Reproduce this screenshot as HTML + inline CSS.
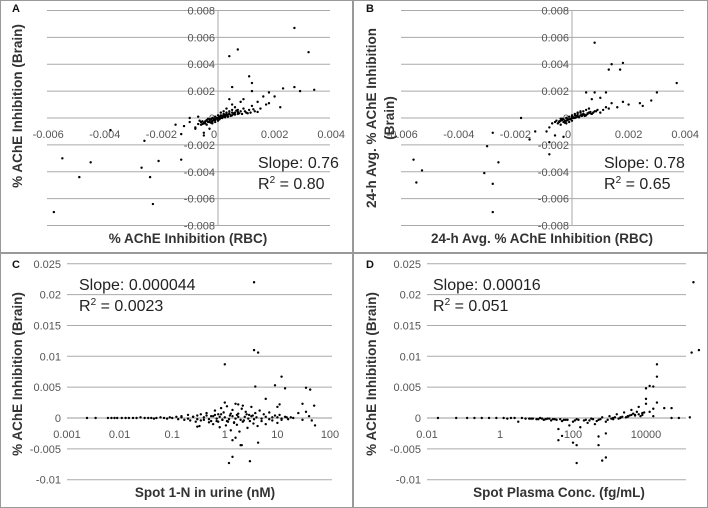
<!DOCTYPE html>
<html><head><meta charset="utf-8">
<style>
html,body{margin:0;padding:0;background:#fff}
svg{display:block}
text{font-family:"Liberation Sans",sans-serif}
.tick{font-size:11px;fill:#555}
.title{font-size:13.5px;fill:#333;font-weight:bold}
.stat{font-size:16px;fill:#222}
.letter{font-size:11px;font-weight:bold;fill:#111}
</style></head>
<body>
<svg id="fig" width="708" height="508" viewBox="0 0 708 508"></svg>
<script>
// ---- Panel A data (units of 0.001 % inhibition)
const aX=[2.7,0.7,0.4,3.2,1.1,1.2,0.5,2.3,2.7,2.9,3.4,1.2,1.6,2.0,1.8,2.2,1.4,1.7,0.9,-5.8,-5.5,-4.9,-4.5,-2.7,-2.6,-2.4,-2.3,-2.1,-1.3,-1.3,-3.8,-1.0,-0.8,-0.5,-1.5,
-0.6,-0.5,-0.4,-0.4,-0.3,-0.3,-0.2,-0.2,-0.2,-0.1,-0.1,-0.1,0,0,0,0.1,0.1,0.1,0.2,0.2,0.2,0.3,0.3,0.3,0.4,0.4,0.5,0.5,0.6,0.6,0.7,0.7,0.8,0.9,1.0,1.1,1.2,1.3,1.5,1.8,0.5,0.4,0.8,-0.8,-1.0,-1.2,-0.7,-0.5,-0.3,0.05,-0.05,0.15,-0.15,0.25,-0.25,0.35,0.45,-0.35,0.55,0.65,-0.45,-0.55,0.15,0.25,-0.1,0.05,0.35,-0.2,0.1,
-0.7,-0.65,-0.6,-0.55,-0.5,-0.45,-0.4,-0.35,-0.3,-0.25,-0.2,-0.15,-0.1,-0.05,0,0.05,0.1,0.15,0.2,0.25,0.3,0.35,0.4,0.45,0.5,0.55,0.6,0.7,0.75,0.85,0.95,1.05,1.15,1.25,1.4];
const aY=[6.7,5.1,4.6,4.9,3.1,2.6,2.3,2.2,2.3,2.0,2.1,2.0,1.6,1.6,1.9,0.8,1.2,1.0,1.4,-7.0,-3.0,-4.4,-3.3,-3.7,-1.7,-4.4,-6.4,-3.2,-3.1,-1.2,-0.9,0.0,-0.7,-1.3,-0.5,
-0.3,-0.4,-0.2,-0.5,-0.3,-0.1,-0.4,-0.2,0,-0.3,-0.1,0.1,-0.2,0,0.2,0,0.2,0.4,0.1,0.3,0.5,0.2,0.4,0.7,0.3,0.5,0.2,0.6,0.4,0.8,0.3,0.6,0.5,0.7,0.4,0.6,0.9,0.5,0.7,1.1,1.0,1.4,1.2,-0.8,-0.3,-0.6,0.1,-1.1,-0.8,0.1,-0.05,0.15,-0.15,0.05,-0.35,0.25,0.15,-0.05,0.35,0.55,-0.25,-0.45,0.05,0.25,-0.15,-0.1,0.1,-0.3,0.0,
-0.45,-0.2,-0.5,-0.25,-0.35,-0.4,-0.15,-0.3,-0.2,-0.1,-0.25,-0.05,-0.15,0.0,-0.1,0.05,0.1,0.0,0.2,0.1,0.25,0.1,0.35,0.2,0.4,0.3,0.25,0.45,0.35,0.3,0.5,0.35,0.4,0.65,0.45];
// ---- Panel B data
const bX=[0.8,1.3,1.4,1.8,1.7,3.7,3.0,0.5,0.8,1.2,1.0,0.7,1.4,1.8,2.0,2.4,2.5,2.8,1.6,1.3,-5.6,-5.5,-5.3,-3.1,-3.0,-2.8,-2.8,-2.6,-2.8,-1.5,-1.3,-0.8,-0.6,-0.9,-0.3,-0.8,-0.8,-1.8,
-0.6,-0.5,-0.4,-0.4,-0.3,-0.3,-0.2,-0.2,-0.2,-0.1,-0.1,-0.1,0,0,0,0.1,0.1,0.1,0.2,0.2,0.2,0.3,0.3,0.3,0.4,0.4,0.5,0.5,0.6,0.6,0.7,0.8,0.9,1.0,1.1,1.2,0.05,-0.05,0.15,-0.15,0.25,-0.25,0.35,0.45,-0.35,0.55,-0.45,-0.7,0.65,0.15,
-0.55,-0.45,-0.35,-0.25,-0.15,-0.05,0.05,0.15,0.25,0.35,0.45,0.55,0.65,0.75,0.85,-0.4,-0.2,0,0.2,0.4];
const bY=[5.6,3.6,4.0,4.1,3.6,2.6,1.9,1.9,1.9,1.9,1.5,1.4,1.1,1.2,1.0,1.1,0.9,1.3,0.8,0.7,-3.1,-4.8,-3.9,-4.1,-2.1,-4.9,-7.0,-3.3,-1.1,-1.6,-1.0,-0.7,-1.3,-1.0,-1.4,-1.8,-2.7,0.0,
-0.3,-0.4,-0.2,-0.5,-0.3,-0.1,-0.4,-0.2,0,-0.3,-0.1,0.1,-0.2,0,0.2,0,0.2,0.3,0.1,0.3,0.4,0.2,0.4,0.5,0.3,0.5,0.2,0.6,0.4,0.7,0.3,0.5,0.6,0.4,0.6,0.8,0.05,-0.05,0.15,-0.15,0.05,-0.35,0.25,0.15,-0.05,0.35,-0.25,-0.4,0.45,0.05,
-0.2,-0.3,-0.15,-0.2,-0.1,-0.1,0.0,0.05,0.1,0.15,0.25,0.3,0.35,0.4,0.5,-0.05,0.0,0.1,0.15,0.25];
// ---- Panel C data (x: nM, y: units of 0.001)
const cX=[3.6,1.0,3.6,4.3,3.8,9,12,14,35,42,1.2,1.4,3,2,2.1,4.3,1.4,1.6,1.0,1.8,2.2,6,11,10,30,50,52,0.3,
0.0024,0.0035,0.006,0.007,0.008,0.009,0.011,0.013,0.015,0.018,0.021,0.025,0.03,0.035,0.04,0.045,0.05,0.06,0.07,0.08,0.09,0.1,0.12,0.13,0.15,0.17,0.2,0.22,0.25,0.28,0.3,0.33,0.35,0.4,0.45,0.5,0.55,0.6,0.65,0.7,0.75,0.8,0.85,0.9,0.95,1.05,1.1,1.15,1.25,1.3,1.4,1.5,1.6,1.7,1.8,1.9,2.1,2.3,2.5,2.7,2.9,3.2,3.5,3.8,4.2,4.6,5,5.5,6,7,8,9,10,11,12,14,16,18,20,25,30,35,40,45,
0.15,0.2,0.25,0.3,0.4,0.5,0.6,0.7,0.8,0.9,1.0,1.2,1.4,1.6,1.8,2,2.4,2.8,3.2,3.6,4,5,6,7,8,10,12,15,0.35,0.45,0.55,0.65,0.75,0.85,1.1,1.3,1.5,1.7,2.2,2.6,3,3.4];
const cY=[22,8.7,11,10.6,5.1,5.3,6.7,4.8,4.9,4.6,-7.3,-6.3,-7,-4.4,-4.4,-4,-3.6,-3.2,2.5,2.2,2.0,3.1,2.2,1.8,2.3,2,-1.2,-1.4,
0,0,0,0,0,0,0,0,0,0,0,0.1,0,0,0,-0.1,0,0.1,0,-0.1,0.1,0,0.2,-0.2,0.3,-0.3,0.5,-0.4,0.2,-0.6,0.4,-1.3,0.6,-0.3,0.8,-0.7,0.3,-1.0,1.2,-0.5,0.6,-1.5,1.6,-0.3,0.9,-1.2,1.9,-0.6,0.4,-2.0,1.3,-0.8,2.3,-1.1,0.7,-2.2,1.5,-0.4,1.0,-1.6,0.5,1.8,-0.9,0.8,-1.3,1.2,-0.5,0.6,-1.0,0.9,-0.4,0.4,-0.8,0.5,-0.3,0.2,-0.2,0.1,0,0.8,-0.3,1.0,0.3,-0.4,
0.1,-0.1,0.2,-0.2,0.1,-0.2,0.3,-0.1,0.2,-0.3,0.1,-0.2,0.3,-0.1,0.2,-0.3,0.2,-0.1,0.3,-0.2,0.1,-0.1,0.2,-0.2,0.1,0.1,-0.1,0.1,-0.4,0.4,-0.5,0.5,-0.6,0.6,-0.5,0.7,-0.7,0.5,-0.6,0.6,-0.5,0.4];
// ---- Panel D data (x: log10 of fg/mL, y: units of 0.001)
const dLogX=[5.3,5.45,5.25,4.3,4.3,4.1,4.0,4.2,4.0,4.3,4.5,4.7,5.2,2.1,2.8,2.9,2.1,2.7,1.6,1.7,2.0,2.9,2.7,4.2,4.7,4.9,
-1.7,-1.2,-0.9,-0.7,-0.5,-0.3,-0.1,0.1,0.2,0.4,0.5,0.6,0.8,1.0,1.1,1.2,1.3,1.4,1.5,1.6,1.7,1.8,1.9,2.0,2.1,2.2,2.3,2.4,2.5,2.6,2.7,2.8,2.9,3.0,3.1,3.2,3.3,3.4,3.5,3.6,3.7,3.8,3.9,4.0,4.1,4.2,3.55,3.45,3.25,2.95,2.65,2.35,2.05,1.75,1.45,1.15,0.85,3.65,3.75,3.85,
0.3,0.7,0.9,1.05,1.25,1.35,1.55,1.65,1.85,2.15,2.45,2.55,2.75,3.05,3.15,3.35,3.5,3.6,3.7,3.8,3.9,3.95,3.3,3.1];
const dY=[22,11,10.6,8.7,6.7,5.2,4.8,5.1,3.1,2.5,1.6,1.6,0.1,-7.3,-6.9,-6.4,-4.4,-4.4,-3.6,-2.9,-4,-2.5,-3,0.3,0,0,
0,0,0,0,0,0,0,0,-0.1,0,-0.6,0,-0.1,-0.2,0,-0.3,-0.1,-0.4,-0.2,-1.8,-0.5,-0.3,-1.2,-0.6,-0.2,-1.5,-0.4,-0.8,-0.1,-1.0,-0.3,0.1,-0.6,0.3,-0.2,0.6,0,0.9,0.2,1.3,0.5,1.8,0.8,2.3,1.0,1.5,0.4,0.1,-0.1,-0.3,-0.5,-0.3,-0.4,-0.3,-0.2,-0.1,-0.1,0.7,1.0,0.3,
0,-0.1,-0.1,-0.2,-0.2,-0.1,-0.3,-0.2,-0.3,-0.3,-0.4,-0.2,-0.2,-0.1,0.1,0.2,0.3,0.5,0.4,0.6,0.5,0.9,0.1,0.0];

const yTicksAB=[0.008,0.006,0.004,0.002,0,-0.002,-0.004,-0.006,-0.008];
const xTicksAB=[-0.006,-0.004,-0.002,0,0.002,0.004];
const yTicksCD=[0.025,0.02,0.015,0.01,0.005,0,-0.005,-0.01];
const xTicksC=[0.001,0.01,0.1,1,10,100];
const xTicksD=[0.01,1,100,10000];

const NS="http://www.w3.org/2000/svg";
const svg=document.getElementById('fig');
function mk(tag,attrs,parent){const e=document.createElementNS(NS,tag);for(const k in attrs)e.setAttribute(k,attrs[k]);(parent||svg).appendChild(e);return e;}
function txt(s,attrs,parent){const e=mk('text',attrs,parent);e.textContent=s;return e;}

const frame=mk('g',{});


mk('rect',{x:0.5,y:0.5,width:707,height:507,fill:'none',stroke:'#999'},frame);
mk('line',{x1:353,y1:0,x2:353,y2:508,stroke:'#999','stroke-width':2},frame);
mk('line',{x1:0,y1:253,x2:708,y2:253,stroke:'#999','stroke-width':2},frame);

function linPanel(name,ox,letter,xs,ys,xtitle,ytitleLines,ytx,ytc,stat){
  const g=mk('g',{});
  
  
  const x0=ox+47, x1=ox+330, zx=ox+218;
  const px=v=>zx+v*1000*28.3;
  const py=v=>118-v*1000*13.44;
  yTicksAB.forEach(t=>{
    const l=mk('line',{x1:x0,x2:x1,y1:py(t),y2:py(t),stroke:'#aaa','stroke-width':1},g);
    
    
    const tl=txt(t===0?'0':t.toFixed(3),{x:zx-3,y:py(t)+4,'text-anchor':'end',class:'tick'},g);
    
    
  });
  mk('line',{x1:zx,x2:zx,y1:py(0.008),y2:py(-0.008),stroke:'#aaa'},g);
  xTicksAB.forEach(t=>{
    const tl=txt(t===0?'0':t.toFixed(3),{x:px(t)+(t===0?-4:0),y:py(0)+20,'text-anchor':'middle',class:'tick'},g);
    
    
  });
  xs.forEach((v,i)=>{
    const c=mk('circle',{cx:px(v/1000),cy:py(ys[i]/1000),r:1.2,fill:'#000'},g);
    
    
  });
  const L=txt(letter,{x:ox+12,y:12,class:'letter'},g);
  
  
  const xt=txt(xtitle,{x:ox+188,y:243,'text-anchor':'middle',class:'title'},g);
  
  
  const yt=mk('text',{transform:`translate(${ox+ytx},${ytc}) rotate(-90)`,'text-anchor':'middle',class:'title'},g);
  
  
  ytitleLines.forEach((s,i)=>{const ts=mk('tspan',{x:0,dy:i?18:0},yt);ts.textContent=s;});
  const s1=txt(stat[0],{x:ox+stat[2],y:168,class:'stat'},g);
  
  
  const s2=mk('text',{x:ox+stat[2],y:189,class:'stat'},g);
  
  
  s2.innerHTML='R<tspan font-size="10" dy="-6">2</tspan><tspan dy="6"> = '+stat[1]+'</tspan>';
}
linPanel('panel-a-chart',0,'A',aX,aY,'% AChE Inhibition (RBC)',['% AChE Inhibition (Brain)'],22,106,['Slope: 0.76','0.80',258]);
linPanel('panel-b-chart',354,'B',bX,bY,'24-h Avg. % AChE Inhibition (RBC)',['24-h Avg. % AChE Inhibition','(Brain)'],22,118,['Slope: 0.78','0.65',250]);

function logPanel(name,oy,ox,letter,lxs,ys,ticks,xtitle,stat,x0,decadePx,lmin){
  const g=mk('g',{});
  
  
  const gx0=ox+x0, gx1=ox+332;
  const px=l=>gx0+(l-lmin)*decadePx;
  const py=v=>oy+164-v*1000*6.17;
  yTicksCD.forEach(t=>{
    const l=mk('line',{x1:gx0,x2:gx1,y1:py(t),y2:py(t),stroke:t===0?'#999':'#aaa'},g);
    
    
    const tl=txt(t===0?'0':String(t),{x:gx0-6,y:py(t)+4,'text-anchor':'end',class:'tick'},g);
    
    
  });
  ticks.forEach(t=>{
    const tl=txt(String(t),{x:px(Math.log10(t)),y:py(0)+20,'text-anchor':'middle',class:'tick'},g);
    
    
  });
  lxs.forEach((l,i)=>{
    const c=mk('circle',{cx:px(l),cy:py(ys[i]/1000),r:1.2,fill:'#000'},g);
    
    
  });
  const L=txt(letter,{x:ox+12,y:oy+14,class:'letter'},g);
  
  
  const xt=txt(xtitle,{x:ox+205,y:oy+243,'text-anchor':'middle',class:'title'},g);
  
  
  const yt=txt('% AChE Inhibition (Brain)',{transform:`translate(${ox+22},${oy+120}) rotate(-90)`,'text-anchor':'middle',class:'title'},g);
  
  
  const s1=txt(stat[0],{x:ox+79,y:oy+36,class:'stat'},g);
  
  
  const s2=mk('text',{x:ox+79,y:oy+57,class:'stat'},g);
  
  
  s2.innerHTML='R<tspan font-size="10" dy="-6">2</tspan><tspan dy="6"> = '+stat[1]+'</tspan>';
}
logPanel('panel-c-chart',254,0,'C',cX.map(v=>Math.log10(v)),cY,xTicksC,'Spot 1-N in urine (nM)',['Slope: 0.000044','0.0023'],67,52.6,-3);
logPanel('panel-d-chart',254,354,'D',dLogX,dY,xTicksD,'Spot Plasma Conc. (fg/mL)',['Slope: 0.00016','0.051'],73,36.5,-2);
</script>
</body></html>
